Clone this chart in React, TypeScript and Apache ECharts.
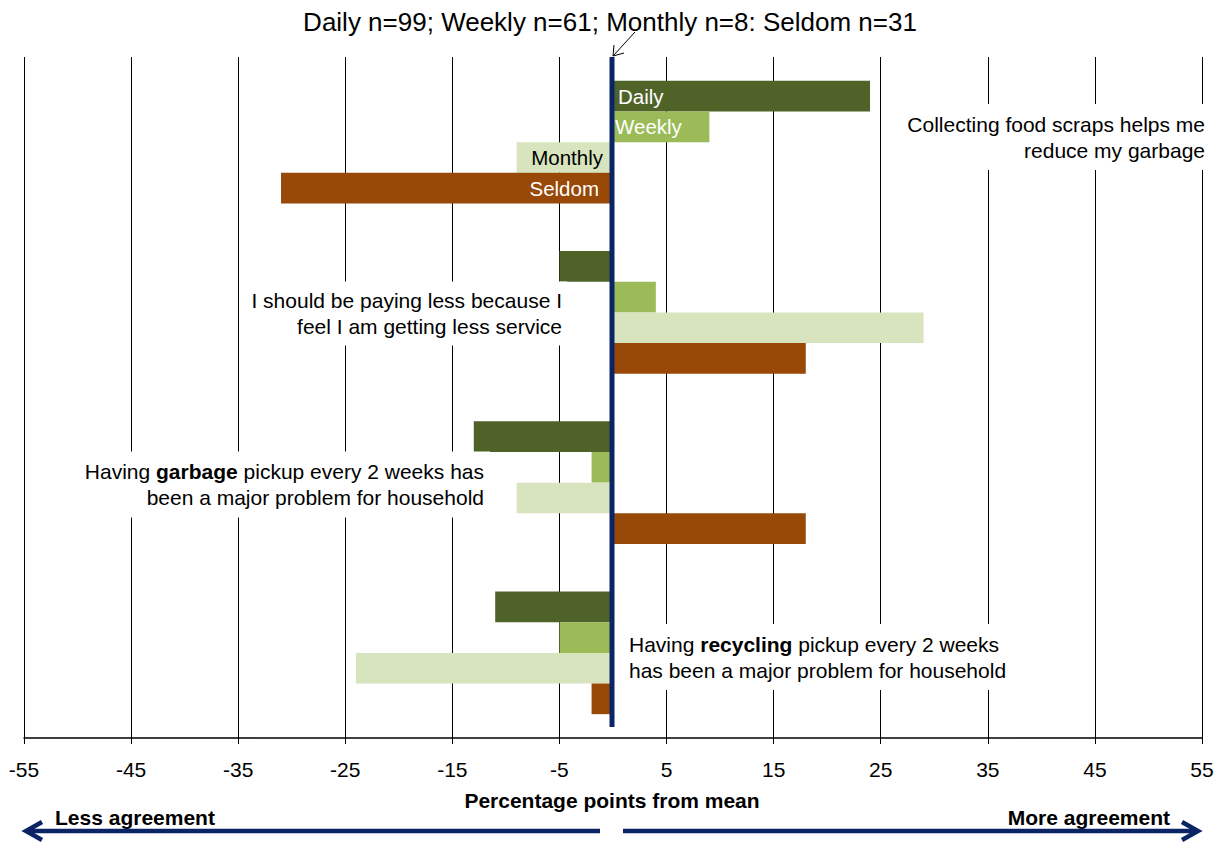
import React, { useEffect, useRef } from 'react';
import * as echarts from 'echarts';

const categories = [
  'Collecting food scraps helps me reduce my garbage',
  'I should be paying less because I feel I am getting less service',
  'Having garbage pickup every 2 weeks has been a major problem for household',
  'Having recycling pickup every 2 weeks has been a major problem for household',
];
const seriesNames = ['Daily', 'Weekly', 'Monthly', 'Seldom'];
const dailyValues = [24, -5, -13, -11];
const weeklyValues = [9, 4, -2, -5];
const monthlyValues = [-9, 29, -9, -24];
const seldomValues = [-31, 18, 18, -2];
const xMin = -55;
const xMax = 55;
const xStep = 10;
const titleText = 'Daily n=99; Weekly n=61; Monthly n=8: Seldom n=31';
const axisTitle = 'Percentage points from mean';
const leftNote = 'Less agreement';
const rightNote = 'More agreement';
const annotationTexts = [
  'Collecting food scraps helps me\nreduce my garbage',
  'I should be paying less because I\nfeel I am getting less service',
  'Having {b|garbage} pickup every 2 weeks has\nbeen a major problem for household',
  'Having {b|recycling} pickup every 2 weeks\nhas been a major problem for household',
];

const FONT = '"Liberation Sans", Arial, sans-serif';
const NAVY = '#0b2466';
const colors = ['#4F6228', '#9BBB59', '#D7E4BD', '#984807'];
const labelColors = ['#ffffff', '#ffffff', '#000000', '#ffffff'];

export default function App() {
  const ref = useRef<HTMLDivElement>(null);
  useEffect(() => {
    document.body.style.margin = '0';
    if (!ref.current) return;
    const chart = echarts.init(ref.current, null, { renderer: 'svg' });
    const allValues = [dailyValues, weeklyValues, monthlyValues, seldomValues];
    const labelDistances = [5, 2, 10, 14];

    const series = seriesNames.map((name, si) => ({
      name,
      type: 'bar',
      barGap: '0%',
      barCategoryGap: '28%',
      itemStyle: { color: colors[si] },
      z: 2,
      data: allValues[si].map((v, ci) =>
        ci === 0
          ? {
              value: v,
              label: {
                show: true,
                formatter: name,
                position: v >= 0 ? 'insideLeft' : 'insideRight',
                distance: labelDistances[si],
                color: labelColors[si],
                fontSize: 20.5,
                fontFamily: FONT,
              },
            }
          : v
      ),
    }));

    const richB = { fontWeight: 'bold', fontSize: 21, fontFamily: FONT, fill: '#000', lineHeight: 26 };
    const annotation = (id: string, text: string, x: number, y: number, align: string, padding: number[]) => ({
      type: 'text',
      id,
      x,
      y,
      z: 50,
      style: {
        text,
        fontSize: 21,
        fontFamily: FONT,
        fill: '#000',
        align,
        verticalAlign: 'middle',
        lineHeight: 26,
        backgroundColor: '#ffffff',
        padding,
        rich: { b: richB },
      },
    });

    const baseGraphic: any[] = [
      {
        type: 'text',
        id: 'title',
        x: 610,
        y: 22,
        style: { text: titleText, fontSize: 26, fontFamily: FONT, fill: '#000', align: 'center', verticalAlign: 'middle' },
      },
      { type: 'line', id: 'tarrow', shape: { x1: 635, y1: 32, x2: 613, y2: 56 }, style: { stroke: '#000', lineWidth: 1 }, z: 60 },
      {
        type: 'polyline',
        id: 'tarrowhead',
        shape: { points: [[614, 45], [613, 56], [624, 53]] },
        style: { stroke: '#000', lineWidth: 1, fill: null },
        z: 60,
      },
      annotation('a1', annotationTexts[0], 1222, 137, 'right', [7, 17, 7, 12]),
      annotation('a2', annotationTexts[1], 567, 313.5, 'right', [6, 5, 6, 12]),
      annotation('a3', annotationTexts[2], 490, 484.5, 'right', [7, 6, 7, 10]),
      annotation('a4', annotationTexts[3], 617, 657, 'left', [7, 10, 7, 12]),
      {
        type: 'text',
        id: 'axistitle',
        x: 612,
        y: 800,
        style: { text: axisTitle, fontSize: 21, fontWeight: 'bold', fontFamily: FONT, fill: '#000', align: 'center', verticalAlign: 'middle' },
      },
      {
        type: 'text',
        id: 'less',
        x: 55,
        y: 817,
        style: { text: leftNote, fontSize: 21, fontWeight: 'bold', fontFamily: FONT, fill: '#000', align: 'left', verticalAlign: 'middle' },
      },
      {
        type: 'text',
        id: 'more',
        x: 1170,
        y: 817,
        style: { text: rightNote, fontSize: 21, fontWeight: 'bold', fontFamily: FONT, fill: '#000', align: 'right', verticalAlign: 'middle' },
      },
      { type: 'line', id: 'larrow', shape: { x1: 600, y1: 831, x2: 27, y2: 831 }, style: { stroke: NAVY, lineWidth: 4.5 } },
      {
        type: 'polyline',
        id: 'larrowhead',
        shape: { points: [[42, 822], [26, 831], [42, 840]] },
        style: { stroke: NAVY, lineWidth: 4.5, fill: null },
      },
      { type: 'line', id: 'rarrow', shape: { x1: 623, y1: 831, x2: 1197, y2: 831 }, style: { stroke: NAVY, lineWidth: 4.5 } },
      {
        type: 'polyline',
        id: 'rarrowhead',
        shape: { points: [[1182, 822], [1198, 831], [1182, 840]] },
        style: { stroke: NAVY, lineWidth: 4.5, fill: null },
      },
    ];

    chart.setOption({
      animation: false,
      textStyle: { fontFamily: FONT },
      grid: { left: 24, right: 22, top: 57, bottom: 104, containLabel: false },
      xAxis: {
        type: 'value',
        min: xMin,
        max: xMax,
        interval: xStep,
        axisLine: { show: true, onZero: false, lineStyle: { color: '#000', width: 1.5 } },
        axisTick: { show: true, length: 6, lineStyle: { color: '#000', width: 1 } },
        axisLabel: { fontSize: 21, color: '#000', margin: 21, fontFamily: FONT },
        splitLine: { show: true, lineStyle: { color: '#000', width: 1 } },
      },
      yAxis: {
        type: 'category',
        inverse: true,
        data: categories,
        axisLine: { show: false },
        axisTick: { show: false },
        axisLabel: { show: false },
        splitLine: { show: false },
      },
      series,
      graphic: baseGraphic,
    });

    const x0 = chart.convertToPixel({ xAxisIndex: 0 }, 0) as number;
    chart.setOption({
      graphic: [
        ...baseGraphic,
        {
          type: 'line',
          id: 'zeroline',
          z: 40,
          shape: { x1: x0 - 1, y1: 57, x2: x0 - 1, y2: 727 },
          style: { stroke: NAVY, lineWidth: 5 },
        },
      ],
    });

    return () => chart.dispose();
  }, []);
  return <div ref={ref} style={{ width: 1224, height: 842 }} />;
}
